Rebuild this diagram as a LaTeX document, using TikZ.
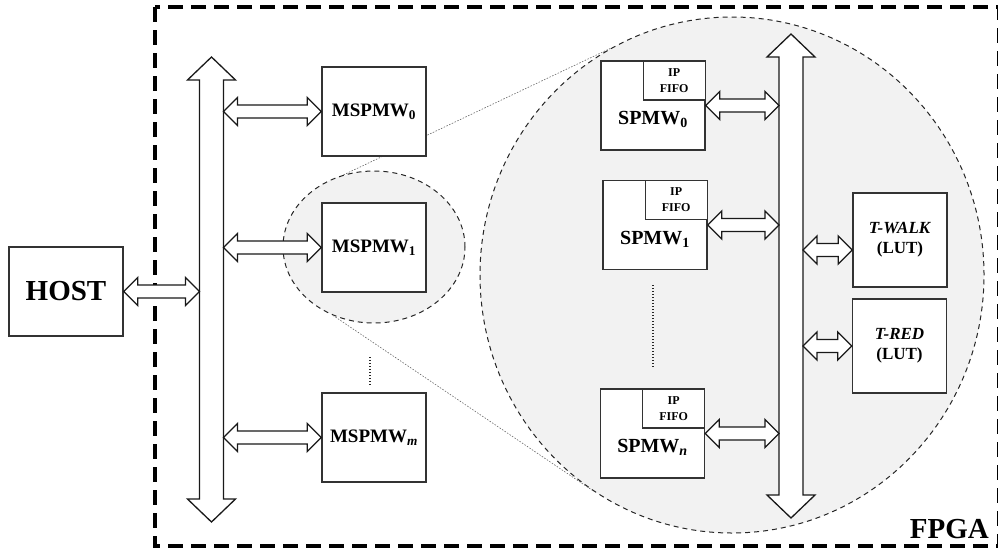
\documentclass[tikz,border=0pt]{standalone}
\usepackage{fontspec}
\setmainfont{Liberation Serif}
\usetikzlibrary{calc}
\usetikzlibrary{shapes.geometric}
\definecolor{lensfill}{HTML}{F2F2F2}
\definecolor{boxline}{HTML}{333333}
\tikzset{
  box/.style={draw=boxline, line width=1.4pt, fill=white, minimum width=104pt, minimum height=89pt, inner sep=0pt, font=\fontsize{19}{19}\selectfont\bfseries},
  spmw/.style={box, label={[font=\fontsize{20}{20}\selectfont\bfseries, yshift=-14pt]center:#1}},
  fifo/.style={draw=boxline, line width=1.2pt, fill=white, minimum width=62pt, minimum height=39pt, inner sep=0pt, align=center, font=\fontsize{12}{16}\selectfont\bfseries},
  lut/.style={box, minimum width=94pt, minimum height=94pt, align=center, font=\fontsize{17}{20}\selectfont\bfseries},
  lens/.style={ellipse, draw=black!85, fill=lensfill, line width=1pt, dash pattern=on 5pt off 4pt, inner sep=0pt},
  zoomline/.style={black!60, line width=0.6pt, dash pattern=on 1.5pt off 1.5pt},
  vdots/.style={black!85, line width=2pt, dash pattern=on 1pt off 2pt},
  linkarrow/.style={draw=black!90, line width=1.3pt, fill=white, line join=miter},
  fpgaframe/.style={line width=3.5pt, dash pattern=on 15pt off 8pt},
}
% fat double arrow, horizontal, from #1 (left tip) to #2 (right tip)
\newcommand{\hlink}[2]{%
  \draw[linkarrow] let \p1=(#1), \p2=(#2) in
    (\x1,\y1) -- (\x1+14pt,\y1+14pt) -- (\x1+14pt,\y1+6.5pt) -- (\x2-14pt,\y1+6.5pt)
    -- (\x2-14pt,\y1+14pt) -- (\x2,\y1) -- (\x2-14pt,\y1-14pt) -- (\x2-14pt,\y1-6.5pt)
    -- (\x1+14pt,\y1-6.5pt) -- (\x1+14pt,\y1-14pt) -- cycle;}
% fat double arrow, vertical bus, from #1 (top tip) to #2 (bottom tip)
\newcommand{\vbus}[2]{%
  \draw[linkarrow] let \p1=(#1), \p2=(#2) in
    (\x1,\y1) -- (\x1+24pt,\y1-23pt) -- (\x1+12pt,\y1-23pt) -- (\x2+12pt,\y2+23pt)
    -- (\x2+24pt,\y2+23pt) -- (\x2,\y2) -- (\x2-24pt,\y2+23pt) -- (\x2-12pt,\y2+23pt)
    -- (\x1-12pt,\y1-23pt) -- (\x1-24pt,\y1-23pt) -- cycle;}

\begin{document}
\begin{tikzpicture}[x=1pt, y=-1pt]
  \useasboundingbox (0,0) rectangle (998,552);
  \draw[fpgaframe] (155,7) rectangle (998.5,546);
  \node[anchor=base east, inner sep=0pt, font=\fontsize{29}{29}\selectfont\bfseries] (fpga) at (989,538) {FPGA};

  % zoom lenses
  \node[lens, minimum width=504pt, minimum height=516pt] (lensB) at (732,275) {};
  \node[lens, minimum width=182pt, minimum height=152pt] (lensA) at (374,247) {};
  \draw[zoomline] (lensA.113.3) -- (lensB.118.5);
  \draw[zoomline] (lensA.239) -- (lensB.237.4);

  % host side
  \node[box, minimum width=114pt, font=\fontsize{29}{29}\selectfont\bfseries] (host) at (66,291.5) {HOST};
  \node[box] (m0) at (374,111.5) {MSPMW\textsubscript{0}};
  \node[box] (m1) at (374,247.5) {MSPMW\textsubscript{1}};
  \node[box] (mm) at (374,437.5) {MSPMW\textsubscript{\textit{m}}};
  \draw[vdots] (370,357) -- (370,387);

  \coordinate (bus1T) at (211.5,57);
  \coordinate (bus1B) at (211.5,522);
  \coordinate (bus1L) at (199.5,0);
  \coordinate (bus1R) at (223.5,0);
  \vbus{bus1T}{bus1B}
  \hlink{host.east}{host.east -| bus1L}
  \hlink{m0.west -| bus1R}{m0.west}
  \hlink{m1.west -| bus1R}{m1.west}
  \hlink{mm.west -| bus1R}{mm.west}

  % inside MSPMW
  \node[spmw={SPMW\textsubscript{0}}] (s0) at (653,105.5) {};
  \node[fifo, anchor=north east] (s0f) at (s0.north east) {IP\\FIFO};
  \node[spmw={SPMW\textsubscript{1}}] (s1) at (655,225) {};
  \node[fifo, anchor=north east] (s1f) at (s1.north east) {IP\\FIFO};
  \node[spmw={SPMW\textsubscript{\textit{n}}}] (sn) at (652.5,433.5) {};
  \node[fifo, anchor=north east] (snf) at (sn.north east) {IP\\FIFO};
  \draw[vdots] (653,285) -- (653,368);

  \node[lut] (twalk) at (900,240) {\textit{T-WALK}\\(LUT)};
  \node[lut] (tred) at (899.5,346) {\textit{T-RED}\\(LUT)};

  \coordinate (bus2T) at (791,34);
  \coordinate (bus2B) at (791,518);
  \coordinate (bus2L) at (779,0);
  \coordinate (bus2R) at (803,0);
  \vbus{bus2T}{bus2B}
  \hlink{s0.east}{s0.east -| bus2L}
  \hlink{s1.east}{s1.east -| bus2L}
  \hlink{sn.east}{sn.east -| bus2L}
  \coordinate (twalkin) at ([yshift=-10pt]twalk.west);
  \hlink{twalkin -| bus2R}{twalkin}
  \hlink{tred.west -| bus2R}{tred.west}
\end{tikzpicture}
\end{document}
